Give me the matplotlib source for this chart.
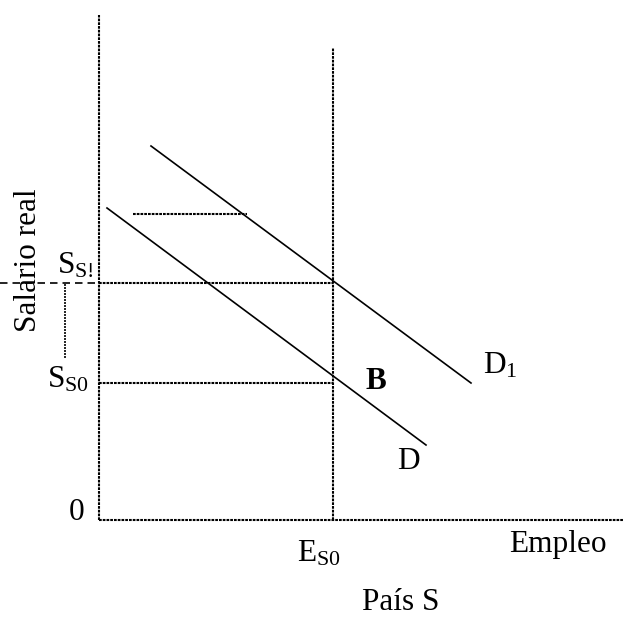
import matplotlib
matplotlib.use("Agg")
import matplotlib.pyplot as plt

plt.rcParams['font.family'] = ['Liberation Serif', 'DejaVu Serif']
plt.rcParams['mathtext.fontset'] = 'custom'
plt.rcParams['mathtext.rm'] = 'Liberation Serif'
plt.rcParams['mathtext.bf'] = 'Liberation Serif:bold'

# axis extents
y_axis_top = 505
x_axis_right = 524

# employment level and wages
e_s0 = 234
e_s0_top = 472
s_s1 = 237
s_s0 = 137
bracket_low = 162

# demand curves (x, y)
d_x = [8, 327]
d_y = [312, 75]
d1_x = [52, 372]
d1_y = [374, 137]

# short horizontal segment
seg_x = [34, 148]
seg_y = 306

dot = (0, (1.3, 0.5))

fig = plt.figure(figsize=(6.38, 6.18), dpi=100)
ax = fig.add_axes([0, 0, 1, 1])
ax.set_xlim(-99, 539)
ax.set_ylim(-98, 520)
ax.axis('off')

# axes
ax.plot([0, 0], [0, y_axis_top], color='black', lw=1.5, linestyle=dot)
ax.plot([0, x_axis_right], [0, 0], color='black', lw=1.5, linestyle=dot)

# vertical line at E_S0
ax.plot([e_s0, e_s0], [0, e_s0_top], color='black', lw=1.5, linestyle=dot)

# wage levels
ax.plot([0, e_s0], [s_s1, s_s1], color='black', lw=1.5, linestyle=dot)
ax.plot([0, e_s0], [s_s0, s_s0], color='black', lw=1.5, linestyle=dot)
ax.plot([-99, 0], [s_s1, s_s1], color='black', lw=1.2, linestyle=(0, (4.5, 3)))
ax.plot([-34, -34], [bracket_low, s_s1], color='black', lw=1.2, linestyle=(0, (1.2, 0.6)))

# demand curves
ax.plot(d_x, d_y, color='black', lw=1.2)
ax.plot(d1_x, d1_y, color='black', lw=1.2)
ax.plot(seg_x, [seg_y, seg_y], color='black', lw=1.5, linestyle=dot)

fs = 22.5
ax.text(-71, 260, 'Salario real', rotation=90, ha='center', va='center', fontsize=fs)
ax.text(-42, 247, r'$\mathrm{S_{S!}}$', ha='left', va='baseline', fontsize=fs)
ax.text(-52, 133, r'$\mathrm{S_{S0}}$', ha='left', va='baseline', fontsize=fs)
ax.text(-22, 8, '0', ha='center', va='center', fontsize=fs)
ax.text(198, -41, r'$\mathrm{E_{S0}}$', ha='left', va='baseline', fontsize=fs)
ax.text(263, -90, 'País S', ha='left', va='baseline', fontsize=fs)
ax.text(410, -32, 'Empleo', ha='left', va='baseline', fontsize=fs)
ax.text(384, 147, r'$\mathrm{D_1}$', ha='left', va='baseline', fontsize=fs)
ax.text(298, 51, 'D', ha='left', va='baseline', fontsize=fs)
ax.text(266, 131, 'B', ha='left', va='baseline', fontsize=fs, fontweight='bold')

fig.savefig('out.png', dpi=100)
